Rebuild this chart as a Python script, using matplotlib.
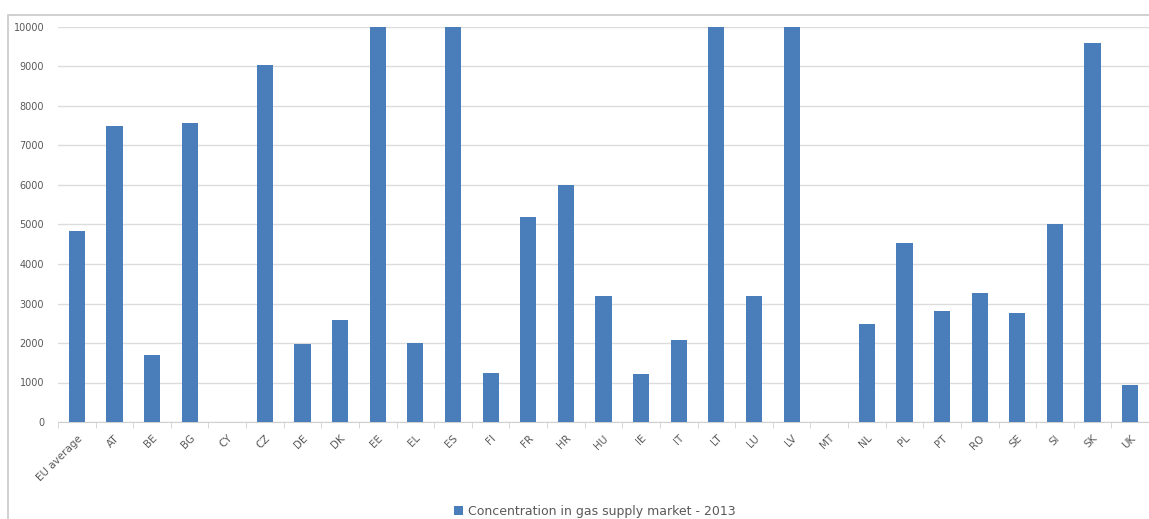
import numpy as np
import matplotlib.pyplot as plt
from matplotlib.patches import Rectangle

countries = ['EU average', 'AT', 'BE', 'BG', 'CY', 'CZ', 'DE', 'DK', 'EE', 'EL',
             'ES', 'FI', 'FR', 'HR', 'HU', 'IE', 'IT', 'LT', 'LU', 'LV',
             'MT', 'NL', 'PL', 'PT', 'RO', 'SE', 'SI', 'SK', 'UK']
hhi_2013 = [4840, 7500, 1700, 7570, 0, 9050, 1980, 2570, 10000, 2000,
            10000, 1240, 5180, 6000, 3190, 1220, 2080, 10000, 3180, 10000,
            0, 2480, 4540, 2820, 3270, 2760, 5020, 9600, 940]
yticks = list(range(0, 10001, 1000))

blue = '#4a7ebb'
grey_txt = '#595959'

fig = plt.figure(figsize=(11.49, 5.19), dpi=100)
# outer chart frame
fig.patches.append(Rectangle((8 / 1149, -0.01), 1.1, (519 - 15) / 519 + 0.01,
                             transform=fig.transFigure, fill=False,
                             edgecolor='#c8c8c8', linewidth=1.2))

ax = fig.add_axes([58 / 1149, (519 - 422) / 519, 1091 / 1149, (422 - 27) / 519])
x = np.arange(len(countries))
ax.bar(x, hhi_2013, width=0.43, color=blue, zorder=3,
       label='Concentration in gas supply market - 2013')

ax.set_xlim(-0.5, len(countries) - 0.5)
ax.set_ylim(0, 10000)
ax.set_yticks(yticks)
ax.set_yticklabels([str(v) for v in yticks], fontsize=7, color=grey_txt)
ax.set_xticks(x)
ax.set_xticklabels(countries, rotation=45, ha='right', rotation_mode='anchor',
                   fontsize=7.5, color=grey_txt)
ax.set_xticks(np.arange(-0.5, len(countries), 1), minor=True)
ax.tick_params(axis='x', which='major', length=0, pad=8)
ax.tick_params(axis='x', which='minor', length=4, color='#d0d0d0')
ax.tick_params(axis='y', length=0, pad=10)
ax.grid(axis='y', color='#dcdcdc', linewidth=1, zorder=0)
for s in ['top', 'right', 'left']:
    ax.spines[s].set_visible(False)
ax.spines['bottom'].set_color('#d0d0d0')

fig.legend(loc='lower center', bbox_to_anchor=(595 / 1149, -0.02), frameon=False,
           fontsize=9, handlelength=0.7, handleheight=0.7, handletextpad=0.4,
           labelcolor=grey_txt)

fig.savefig('out.png', dpi=100)
